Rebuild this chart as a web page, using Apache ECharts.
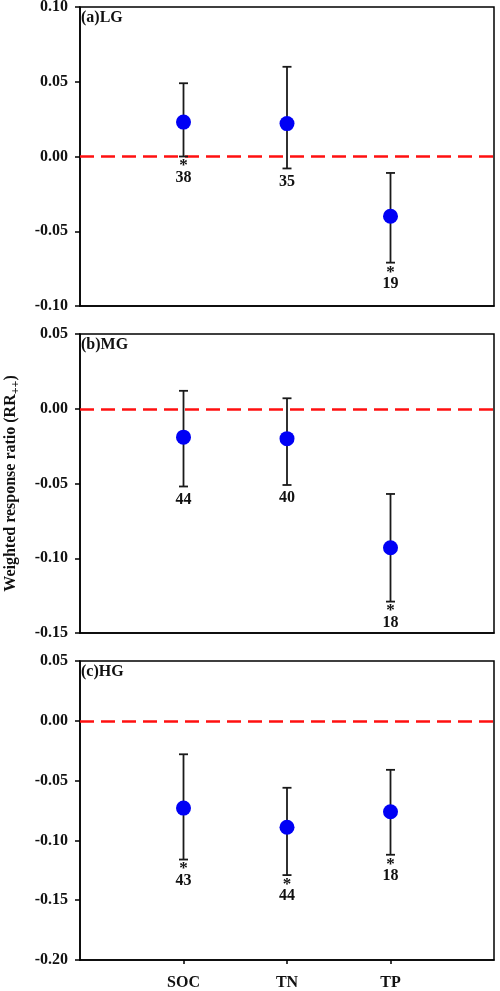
<!DOCTYPE html>
<html><head><meta charset="utf-8">
<script src="https://cdn.jsdelivr.net/npm/echarts@6/dist/echarts.min.js"></script>
<style>html,body{margin:0;padding:0;background:#fff}#c{width:500px;height:991px}</style>
</head><body><div id="c"></div>
<script>
const categories = ['SOC', 'TN', 'TP'];
const panelLabels = ['(a)LG', '(b)MG', '(c)HG'];
const meanLG = [0.023, 0.022, -0.040];
const upperLG = [0.049, 0.060, -0.011];
const lowerLG = [0.000, -0.008, -0.071];
const nLG = [38, 35, 19];
const sigLG = [1, 0, 1];
const meanMG = [-0.019, -0.020, -0.093];
const upperMG = [0.012, 0.007, -0.057];
const lowerMG = [-0.052, -0.051, -0.129];
const nMG = [44, 40, 18];
const sigMG = [0, 0, 1];
const meanHG = [-0.073, -0.089, -0.076];
const upperHG = [-0.028, -0.056, -0.041];
const lowerHG = [-0.116, -0.129, -0.112];
const nHG = [43, 44, 18];
const sigHG = [1, 1, 1];
const yMin = [-0.10, -0.15, -0.20];
const yMax = [0.10, 0.05, 0.05];
const yInterval = 0.05;

const panels = [
  {mean: meanLG, upper: upperLG, lower: lowerLG, n: nLG, sig: sigLG},
  {mean: meanMG, upper: upperMG, lower: lowerMG, n: nMG, sig: sigMG},
  {mean: meanHG, upper: upperHG, lower: lowerHG, n: nHG, sig: sigHG}
];
const paddedCats = [''].concat(categories).concat(['']);
const FONT = '"Liberation Serif","Times New Roman",serif';
const gridTops = [7, 334, 661];
const gridH = 299;

const chart = echarts.init(document.getElementById('c'), null, {renderer: 'canvas'});
const grid = [], xAxis = [], yAxis = [], series = [], title = [];
panels.forEach((p, k) => {
  grid.push({left: 80, width: 414, top: gridTops[k], height: gridH, show: true,
    borderColor: '#000', borderWidth: 1.5, backgroundColor: '#fff',
    containLabel: false, outerBoundsMode: 'none'});
  xAxis.push({type: 'category', gridIndex: k, data: paddedCats, boundaryGap: false,
    position: 'bottom',
    axisLine: {onZero: false, lineStyle: {color: '#000', width: 1.5}},
    axisTick: {show: k === 2, length: 4, lineStyle: {color: '#000', width: 1.5},
      interval: (i, v) => v !== ''},
    axisLabel: {show: k === 2, interval: 0, margin: 15, color: '#111',
      fontFamily: FONT, fontWeight: 'bold', fontSize: 16},
    splitLine: {show: false}});
  const ya = {type: 'value', gridIndex: k, min: yMin[k], max: yMax[k], interval: yInterval,
    axisLine: {show: true, onZero: false, lineStyle: {color: '#000', width: 1.5}},
    axisTick: {show: true, inside: false, length: 5, lineStyle: {color: '#000', width: 1.5}},
    axisLabel: {margin: 12, color: '#111', fontFamily: FONT, fontWeight: 'bold', fontSize: 16,
      formatter: v => v.toFixed(2)},
    splitLine: {show: false}};
  if (k === 1) {
    ya.name = '{m|Weighted response ratio (RR}{s|++}{m|)}';
    ya.nameLocation = 'middle';
    ya.nameRotate = 90;
    ya.nameGap = 58;
    ya.nameTextStyle = {fontFamily: FONT, fontWeight: 'bold', fontSize: 16, color: '#111',
      rich: {
        m: {fontFamily: FONT, fontWeight: 'bold', fontSize: 16, color: '#111', lineHeight: 22, verticalAlign: 'middle'},
        s: {fontFamily: FONT, fontWeight: 'bold', fontSize: 12, color: '#111', lineHeight: 22, verticalAlign: 'bottom'}
      }};
  }
  yAxis.push(ya);
  title.push({text: panelLabels[k], left: 81, top: gridTops[k] + 3, padding: 0,
    textStyle: {fontFamily: FONT, fontWeight: 'bold', fontSize: 16, color: '#111'}});

  const barData = categories.map((c, i) => [i + 1, p.lower[i], p.upper[i], p.n[i], p.sig[i]]);
  series.push({
    type: 'custom', xAxisIndex: k, yAxisIndex: k, clip: false, z: 3,
    encode: {x: 0, y: [1, 2]},
    data: barData,
    renderItem: function (params, api) {
      const x = api.value(0);
      const lo = api.coord([x, api.value(1)]);
      const hi = api.coord([x, api.value(2)]);
      const cap = 4.5;
      const sig = api.value(4) === 1;
      const st = {stroke: '#1a1a1a', lineWidth: 1.8};
      const children = [
        {type: 'line', shape: {x1: lo[0], y1: lo[1], x2: hi[0], y2: hi[1]}, style: st},
        {type: 'line', shape: {x1: hi[0] - cap, y1: hi[1], x2: hi[0] + cap, y2: hi[1]}, style: st},
        {type: 'line', shape: {x1: lo[0] - cap, y1: lo[1], x2: lo[0] + cap, y2: lo[1]}, style: st}
      ];
      if (sig) {
        children.push({type: 'text', style: {text: '*', x: lo[0], y: lo[1] + 1, align: 'center',
          verticalAlign: 'top', font: 'bold 17px ' + FONT, fill: '#111'}});
      }
      children.push({type: 'text', style: {text: String(api.value(3)), x: lo[0],
        y: lo[1] + (sig ? 21 : 13), align: 'center', verticalAlign: 'middle',
        font: 'bold 16px ' + FONT, fill: '#111'}});
      return {type: 'group', children: children};
    }
  });
  series.push({
    type: 'scatter', xAxisIndex: k, yAxisIndex: k, z: 4,
    symbol: 'circle', symbolSize: 15,
    itemStyle: {color: '#0000f5', opacity: 1},
    data: categories.map((c, i) => [i + 1, p.mean[i]]),
    markLine: {silent: true, symbol: 'none', label: {show: false}, z: 2,
      lineStyle: {color: '#ff1010', width: 2.5, type: [14, 7]},
      data: [{yAxis: 0}]},
    animation: false
  });
});

chart.setOption({animation: false, backgroundColor: '#fff', title, grid, xAxis, yAxis, series});
</script></body></html>
